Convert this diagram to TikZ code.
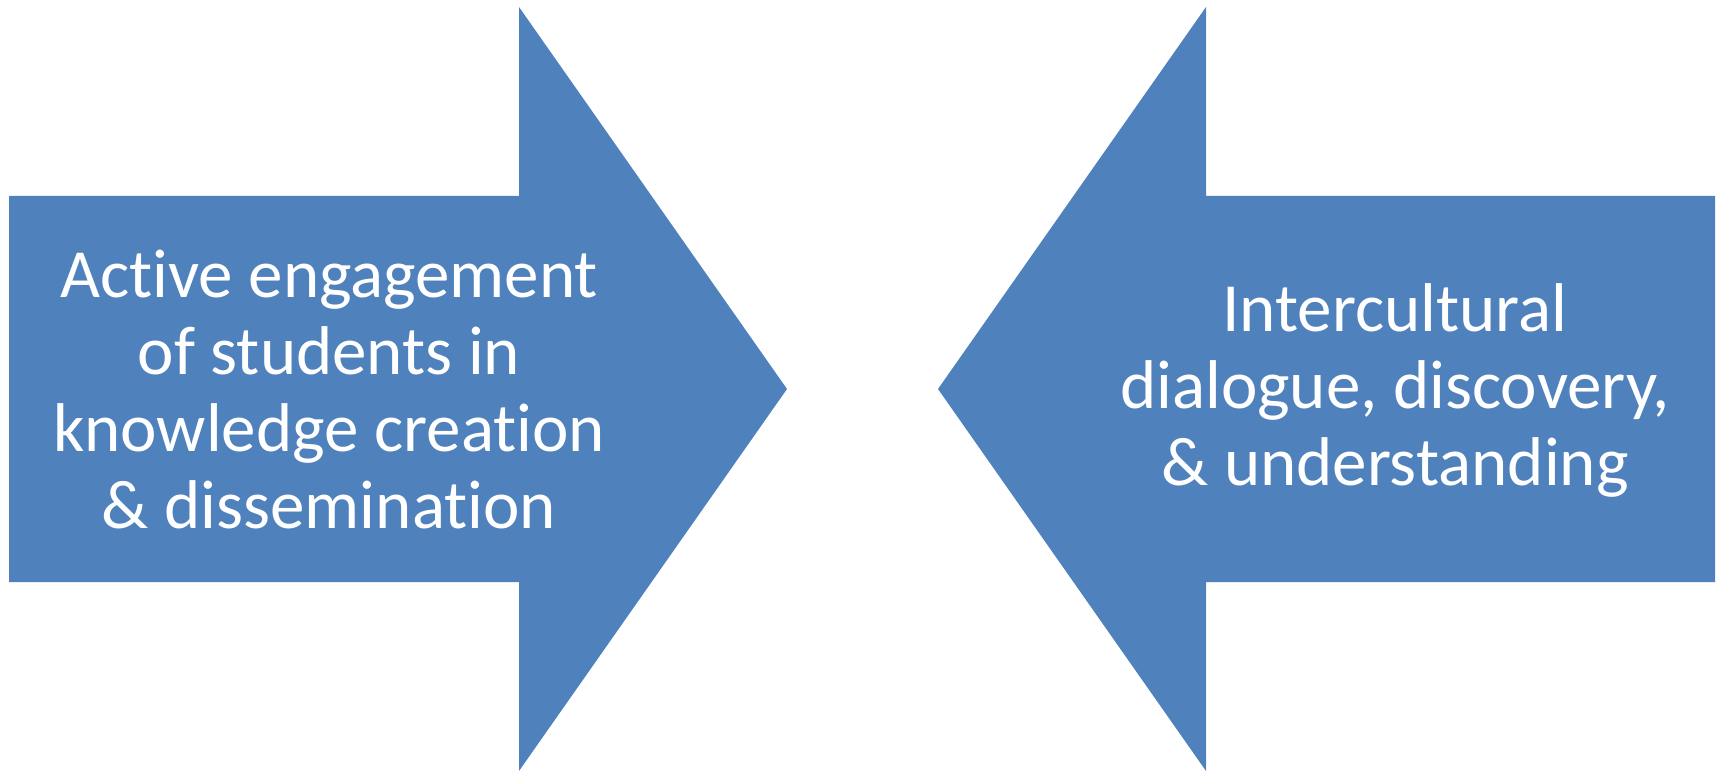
\documentclass[tikz,border=0pt]{standalone}
\usepackage{fontspec}
\setmainfont{Carlito}[Ligatures=NoCommon]
\definecolor{arrowblue}{HTML}{4F81BD}
\tikzset{
  arrowfill/.style={fill=arrowblue, draw=none},
  arrowtext/.style={text=white, align=center, inner sep=0pt, font=\fontsize{69}{77}\selectfont}
}
\begin{document}
\begin{tikzpicture}[x=1pt,y=1pt]

\useasboundingbox (0,0) rectangle (1719,772);

\def \bodytop {576}
\def \bodybot {190}
\def \headtop {765}
\def \headbot {1}
\def \tipy {383}

% left arrow, pointing right
\def \leftstart {9}
\def \leftneck {519}
\def \lefttip {787}
\draw [arrowfill] (\leftstart,\bodytop) -- (\leftneck,\bodytop) -- (\leftneck,\headtop) -- (\lefttip,\tipy) -- (\leftneck,\headbot) -- (\leftneck,\bodybot) -- (\leftstart,\bodybot) -- cycle;

% right arrow, pointing left
\def \rightstart {1715}
\def \rightneck {1206}
\def \righttip {938}
\draw [arrowfill] (\rightstart,\bodytop) -- (\rightneck,\bodytop) -- (\rightneck,\headtop) -- (\righttip,\tipy) -- (\rightneck,\headbot) -- (\rightneck,\bodybot) -- (\rightstart,\bodybot) -- cycle;

\node [arrowtext] (engagement) at (329,382) {Active engagement\\of students in\\knowledge creation\\\& dissemination};
\node [arrowtext] (dialogue) at (1395,382) {Intercultural\\dialogue, discovery,\\\& understanding};

\end{tikzpicture}
\end{document}
